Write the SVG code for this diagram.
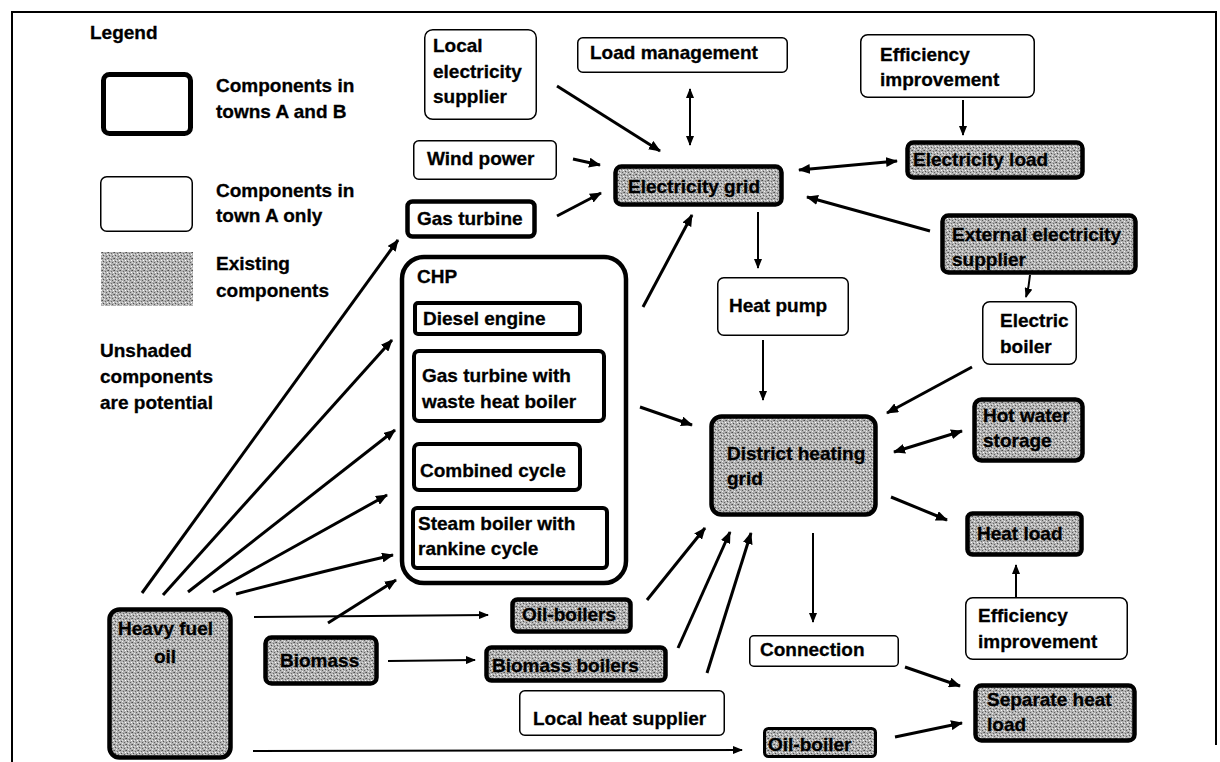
<svg xmlns="http://www.w3.org/2000/svg" width="1220" height="762" viewBox="0 0 1220 762">
<style>
.t{font-family:"Liberation Sans",Arial,sans-serif;font-weight:bold;font-size:19px;fill:#000;stroke:#000;stroke-width:0.3}
.thin{fill:#fff;stroke:#000;stroke-width:1.5}
.thick{fill:#fff;stroke:#000;stroke-width:4.5}
.sh{fill:url(#shade);stroke:#000;stroke-width:4.5}
.c3{fill:none;stroke:#000;stroke-width:3;marker-end:url(#ah)}
.c2{fill:none;stroke:#000;stroke-width:2;marker-end:url(#as)}
.d3{fill:none;stroke:#000;stroke-width:3;marker-end:url(#ah);marker-start:url(#ah)}
.d2{fill:none;stroke:#000;stroke-width:2;marker-end:url(#as);marker-start:url(#as)}
.frame{fill:none;stroke:#000;stroke-width:2}
</style>
<defs>
<pattern id="shade" width="6" height="6" patternUnits="userSpaceOnUse">
<rect width="6" height="6" fill="#b2b2b2"/>
<rect x="0" y="0" width="1" height="1" fill="#4e4e4e"/>
<rect x="3" y="1" width="1" height="1" fill="#6a6a6a"/>
<rect x="1" y="3" width="1" height="1" fill="#505050"/>
<rect x="4" y="4" width="1" height="1" fill="#606060"/>
<rect x="5" y="0" width="1" height="1" fill="#7a7a7a"/>
<rect x="2" y="5" width="1" height="1" fill="#eee"/>
<rect x="5" y="2" width="1" height="1" fill="#fff"/>
<rect x="2" y="2" width="1" height="1" fill="#e0e0e0"/>
<rect x="0" y="4" width="1" height="1" fill="#d8d8d8"/>
</pattern>
<marker id="ah" viewBox="0 0 12 10" refX="11" refY="5" markerWidth="12" markerHeight="10" markerUnits="userSpaceOnUse" orient="auto-start-reverse">
<path d="M0,0 L12,5 L0,10 Z" fill="#000"/>
</marker>
<marker id="as" viewBox="0 0 10 8" refX="9" refY="4" markerWidth="10" markerHeight="8" markerUnits="userSpaceOnUse" orient="auto-start-reverse">
<path d="M0,0 L10,4 L0,8 Z" fill="#000"/>
</marker>
</defs>
<rect width="1220" height="762" fill="#fff"/>
<path class="frame" d="M12,762 L12,12 L1216,12 L1216,745"/>

<g id="legend">
<text class="t" x="90" y="39">Legend</text>
<rect x="103.5" y="74.5" width="87" height="59" rx="6" class="thick" style="stroke-width:5"/>
<text class="t" x="216" y="92">Components in</text>
<text class="t" x="216" y="118">towns A and B</text>
<rect x="100.75" y="176.75" width="91.5" height="54.5" rx="6" class="thin"/>
<text class="t" x="216" y="197">Components in</text>
<text class="t" x="216" y="222">town A only</text>
<rect x="101" y="252" width="92" height="54" fill="url(#shade)"/>
<text class="t" x="216" y="270">Existing</text>
<text class="t" x="216" y="297">components</text>
<text class="t" x="100" y="357">Unshaded</text>
<text class="t" x="100" y="383">components</text>
<text class="t" x="100" y="409">are potential</text>
</g>

<g id="connectors">
<path class="c3" d="M557,86 L660,151"/>
<path class="d2" d="M690,89 L690,145"/>
<path class="c3" d="M573,159 L600,165"/>
<path class="c3" d="M557,216 L601,193"/>
<path class="c3" d="M643,307 L692,215"/>
<path class="c2" d="M758,212 L758,268"/>
<path class="c2" d="M963,100 L963,135"/>
<path class="d3" d="M799,170 L897,161"/>
<path class="c3" d="M930,231 L807,197"/>
<path class="c2" d="M1030,275 Q1029,287 1026,297"/>
<path class="c3" d="M972,367 L887,413"/>
<path class="c2" d="M763,340 L763,400"/>
<path class="c3" d="M640,407 L692,425"/>
<path class="d3" d="M894,452 L962,431"/>
<path class="c3" d="M891,497 L947,520"/>
<path class="c2" d="M1016,597 L1016,565"/>
<path class="c2" d="M813,533 L813,622"/>
<path class="c3" d="M905,667 L960,686"/>
<path class="c3" d="M895,737 L962,723"/>
<path class="c3" d="M647,600 L705,528"/>
<path class="c3" d="M678,648 L730,532"/>
<path class="c3" d="M707,673 L751,533"/>
<path class="c2" d="M388,661 L475,660"/>
<path class="c3" d="M328,623 L396,580"/>
<path class="c2" d="M254,617 L488,615"/>
<path class="c2" d="M253,751 L742,750"/>
<path class="c3" d="M142,593 L398,240"/>
<path class="c3" d="M163,595 L392,340"/>
<path class="c3" d="M188,592 L395,430"/>
<path class="c3" d="M213,592 L387,495"/>
<path class="c3" d="M236,594 Q320,572 393,555"/>
</g>

<g id="local-electricity-supplier">
<rect x="424.75" y="29.75" width="111.5" height="89.5" rx="8" class="thin"/>
<text class="t" x="433" y="52">Local</text>
<text class="t" x="433" y="78">electricity</text>
<text class="t" x="433" y="103">supplier</text>
</g>
<g id="load-management">
<rect x="577.75" y="37.75" width="209.5" height="34.5" rx="5" class="thin"/>
<text class="t" x="590" y="59">Load management</text>
</g>
<g id="wind-power">
<rect x="413.75" y="140.75" width="142.5" height="38.5" rx="5" class="thin"/>
<text class="t" x="427" y="165">Wind power</text>
</g>
<g id="gas-turbine">
<rect x="407.5" y="201.5" width="127" height="35" rx="5" class="thick"/>
<text class="t" x="417" y="225">Gas turbine</text>
</g>
<g id="electricity-grid">
<rect x="615.5" y="166.5" width="166" height="38" rx="6" class="sh"/>
<text class="t" x="628" y="193">Electricity grid</text>
</g>
<g id="efficiency-improvement-top">
<rect x="860.75" y="34.75" width="173.5" height="62.5" rx="7" class="thin"/>
<text class="t" x="880" y="61">Efficiency</text>
<text class="t" x="880" y="86">improvement</text>
</g>
<g id="electricity-load">
<rect x="907.5" y="142.5" width="175" height="35" rx="6" class="sh"/>
<text class="t" x="913" y="166">Electricity load</text>
</g>
<g id="external-electricity-supplier">
<rect x="942.5" y="215.5" width="193" height="57" rx="6" class="sh"/>
<text class="t" x="952" y="241">External electricity</text>
<text class="t" x="952" y="266">supplier</text>
</g>
<g id="electric-boiler">
<rect x="982.75" y="301.75" width="93.5" height="62.5" rx="7" class="thin"/>
<text class="t" x="1000" y="327">Electric</text>
<text class="t" x="1000" y="353">boiler</text>
</g>
<g id="heat-pump">
<rect x="717.75" y="277.75" width="130.5" height="57.5" rx="6" class="thin"/>
<text class="t" x="729" y="312">Heat pump</text>
</g>
<g id="chp">
<rect x="402" y="257" width="224" height="326" rx="22" class="thick"/>
<text class="t" x="417" y="283">CHP</text>
</g>
<g id="diesel-engine">
<rect x="415" y="303" width="165" height="31" rx="3" class="thick" style="stroke-width:4"/>
<text class="t" x="423" y="325">Diesel engine</text>
</g>
<g id="gas-turbine-whb">
<rect x="414" y="351" width="190" height="70" rx="5" class="thick" style="stroke-width:4"/>
<text class="t" x="422" y="382">Gas turbine with</text>
<text class="t" x="422" y="408">waste heat boiler</text>
</g>
<g id="combined-cycle">
<rect x="414" y="444" width="166" height="46" rx="5" class="thick" style="stroke-width:4"/>
<text class="t" x="420" y="477">Combined cycle</text>
</g>
<g id="steam-boiler">
<rect x="413" y="508" width="194" height="60" rx="4" class="thick" style="stroke-width:4"/>
<text class="t" x="418" y="530">Steam boiler with</text>
<text class="t" x="418" y="555">rankine cycle</text>
</g>
<g id="district-heating-grid">
<rect x="711.5" y="416.5" width="164" height="98" rx="10" class="sh"/>
<text class="t" x="727" y="460">District heating</text>
<text class="t" x="727" y="485">grid</text>
</g>
<g id="hot-water-storage">
<rect x="974.5" y="399.5" width="108" height="61" rx="7" class="sh"/>
<text class="t" x="983" y="422">Hot water</text>
<text class="t" x="983" y="447">storage</text>
</g>
<g id="heat-load">
<rect x="967.5" y="513.5" width="114" height="41" rx="5" class="sh"/>
<text class="t" x="977" y="540">Heat load</text>
</g>
<g id="efficiency-improvement-bottom">
<rect x="965.75" y="597.75" width="161.5" height="61.5" rx="7" class="thin"/>
<text class="t" x="978" y="622">Efficiency</text>
<text class="t" x="978" y="648">improvement</text>
</g>
<g id="connection">
<rect x="749.75" y="635.75" width="148.5" height="30.5" rx="4" class="thin"/>
<text class="t" x="760" y="656">Connection</text>
</g>
<g id="separate-heat-load">
<rect x="975.5" y="685.5" width="159" height="55" rx="6" class="sh"/>
<text class="t" x="987" y="706">Separate heat</text>
<text class="t" x="987" y="731">load</text>
</g>
<g id="oil-boiler">
<rect x="764.5" y="728.5" width="111" height="28" rx="4" class="sh" style="stroke-width:3"/>
<text class="t" x="768" y="751">Oil-boiler</text>
</g>
<g id="local-heat-supplier">
<rect x="519.75" y="690.75" width="204.5" height="44.5" rx="5" class="thin"/>
<text class="t" x="533" y="725">Local heat supplier</text>
</g>
<g id="oil-boilers">
<rect x="512.5" y="599.5" width="118" height="32" rx="5" class="sh"/>
<text class="t" x="522" y="621">Oil-boilers</text>
</g>
<g id="biomass-boilers">
<rect x="486.5" y="647.5" width="179" height="33" rx="5" class="sh"/>
<text class="t" x="492" y="672">Biomass boilers</text>
</g>
<g id="biomass">
<rect x="265.5" y="637.5" width="111" height="46" rx="6" class="sh"/>
<text class="t" x="280" y="667">Biomass</text>
</g>
<g id="heavy-fuel-oil">
<rect x="109.5" y="609.5" width="121" height="148" rx="10" class="sh"/>
<text class="t" x="118" y="635">Heavy fuel</text>
<text class="t" x="165" y="663" text-anchor="middle">oil</text>
</g>
</svg>
